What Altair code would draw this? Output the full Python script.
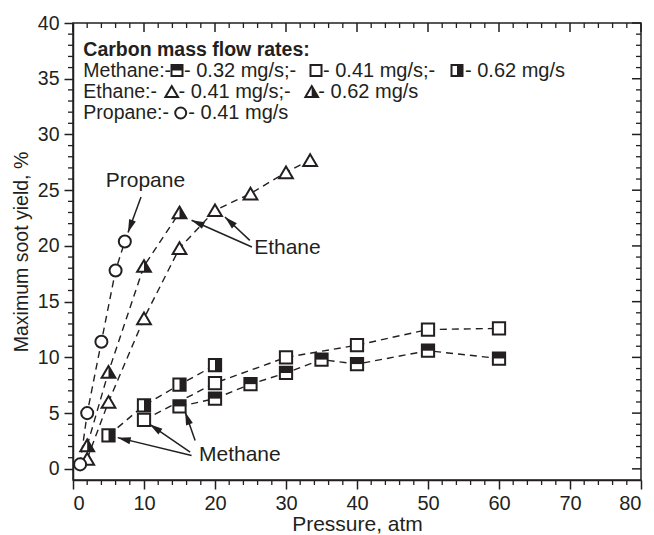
import math
import altair as alt
import pandas as pd

# ---------------- data ----------------
M032_X = [15, 20, 25, 30, 35, 40, 50, 60]
M032_Y = [5.6, 6.3, 7.6, 8.6, 9.8, 9.4, 10.6, 9.9]
M041_X = [10, 20, 30, 40, 50, 60]
M041_Y = [4.4, 7.7, 10.0, 11.1, 12.5, 12.6]
M062_X = [5, 10, 15, 20]
M062_Y = [3.0, 5.7, 7.55, 9.3]
E041_X = [2, 5, 10, 15, 20, 25, 30, 33.4]
E041_Y = [0.9, 6.0, 13.5, 19.8, 23.2, 24.7, 26.6, 27.7]
E062_X = [2, 5, 10, 15]
E062_Y = [2.1, 8.7, 18.2, 23.0]
P041_X = [1, 2, 4, 6, 7.3]
P041_Y = [0.4, 5.0, 11.4, 17.8, 20.4]

X_MAJOR = [0, 10, 20, 30, 40, 50, 60, 70, 80]
X_MINOR = [v for v in range(0, 81, 2) if v % 10]
Y_MAJOR = [0, 5, 10, 15, 20, 25, 30, 35, 40]
Y_MINOR = [v for v in range(0, 41) if v % 5]

# annotation labels (data coordinates)
ANN_TEXT = ["Propane", "Ethane", "Methane"]
ANN_X = [10.2, 30.2, 23.5]
ANN_Y = [25.8, 19.85, 1.23]
# arrows: start -> tip (data coordinates)
ARR_X1 = [9.58, 25.2, 24.9, 16.7, 16.5, 17.2]
ARR_Y1 = [24.4, 19.9, 20.5, 1.2, 1.5, 2.54]
ARR_X2 = [7.75, 16.7, 21.4, 6.3, 10.8, 15.8]
ARR_Y2 = [21.2, 22.3, 22.6, 2.8, 4.0, 5.1]

# ---------------- styling ----------------
FONT = "Liberation Sans"
INK = "#231f20"
W, H = 568, 457
XD, YD = [0, 80], [-1, 40]

SQ = "M-1,-1L1,-1L1,1L-1,1Z"
SQ_TOP = "M-1,-1L1,-1L1,0L-1,0Z"
SQ_RIGHT = "M0,-1L1,-1L1,1L0,1Z"
TRI = "M0,-0.85L1,0.85L-1,0.85Z"
TRI_RIGHT = "M0,-0.85L1,0.85L0,0.85Z"
ARROWHEAD = "M0,0L0.55,2L-0.55,2Z"

xscale = alt.Scale(domain=XD, nice=False, zero=False)
yscale = alt.Scale(domain=YD, nice=False, zero=False)
xaxis = alt.Axis(title="Pressure, atm", values=X_MAJOR, format="d", tickSize=9,
                 labelPadding=4, titlePadding=0, grid=False, labelFontSize=20,
                 titleFontSize=21)
yaxis = alt.Axis(title="Maximum soot yield, %", values=Y_MAJOR, format="d", tickSize=9,
                 labelPadding=5, titlePadding=6, grid=False, labelFontSize=19.5,
                 titleFontSize=19.5)


def X(f):
    return alt.X(f"{f}:Q", scale=xscale, axis=xaxis)


def Y(f):
    return alt.Y(f"{f}:Q", scale=yscale, axis=yaxis)


series = [
    ("m032", M032_X, M032_Y, SQ, SQ_TOP, 150),
    ("m041", M041_X, M041_Y, SQ, None, 150),
    ("m062", M062_X, M062_Y, SQ, SQ_RIGHT, 150),
    ("e041", E041_X, E041_Y, TRI, None, 190),
    ("e062", E062_X, E062_Y, TRI, TRI_RIGHT, 190),
    ("p041", P041_X, P041_Y, "circle", None, 145),
]

frames = []
for name, xs, ys, *_ in series:
    frames.append(pd.DataFrame({"series": name, "x": xs, "y": ys}))
df_all = pd.concat(frames, ignore_index=True)

layers = []
layers.append(
    alt.Chart(df_all).mark_line(strokeDash=[7, 5], strokeWidth=1.4, color=INK)
    .encode(x=X("x"), y=Y("y"), detail="series:N")
)
for name, xs, ys, shape, half, size in series:
    d = pd.DataFrame({"x": xs, "y": ys})
    layers.append(
        alt.Chart(d).mark_point(shape=shape, size=size, filled=True, fill="white",
                                stroke=INK, strokeWidth=2, opacity=1)
        .encode(x=X("x"), y=Y("y"))
    )
    if half:
        layers.append(
            alt.Chart(d).mark_point(shape=half, size=size, filled=True, fill=INK,
                                    strokeWidth=0, opacity=1)
            .encode(x=X("x"), y=Y("y"))
        )

# minor / mirrored ticks
bx = pd.DataFrame({"v": X_MINOR})
majx = pd.DataFrame({"v": X_MAJOR})
ly = pd.DataFrame({"v": Y_MINOR})
majy = pd.DataFrame({"v": Y_MAJOR})
layers.append(alt.Chart(bx).mark_rule(color=INK, strokeWidth=1.3)
              .encode(x=X("v"), y=alt.value(H), y2=alt.value(H + 5)))
layers.append(alt.Chart(bx).mark_rule(color=INK, strokeWidth=1.3)
              .encode(x=X("v"), y=alt.value(0), y2=alt.value(5)))
layers.append(alt.Chart(majx).mark_rule(color=INK, strokeWidth=1.5)
              .encode(x=X("v"), y=alt.value(0), y2=alt.value(9)))
layers.append(alt.Chart(ly).mark_rule(color=INK, strokeWidth=1.3)
              .encode(y=Y("v"), x=alt.value(0), x2=alt.value(-5)))
layers.append(alt.Chart(ly).mark_rule(color=INK, strokeWidth=1.3)
              .encode(y=Y("v"), x=alt.value(W), x2=alt.value(W - 5)))
layers.append(alt.Chart(majy).mark_rule(color=INK, strokeWidth=1.5)
              .encode(y=Y("v"), x=alt.value(W), x2=alt.value(W - 9)))

# arrows
sx = W / (XD[1] - XD[0])
sy = H / (YD[1] - YD[0])
angles = []
for x1, y1, x2, y2 in zip(ARR_X1, ARR_Y1, ARR_X2, ARR_Y2):
    dx = (x2 - x1) * sx
    dy = -(y2 - y1) * sy
    angles.append(math.degrees(math.atan2(dx, -dy)) % 360)
arr = pd.DataFrame({"x1": ARR_X1, "y1": ARR_Y1, "x2": ARR_X2, "y2": ARR_Y2, "a": angles})
layers.append(alt.Chart(arr).mark_rule(color=INK, strokeWidth=1.5)
              .encode(x=X("x1"), y=Y("y1"), x2="x2:Q", y2="y2:Q"))
layers.append(alt.Chart(arr).mark_point(shape=ARROWHEAD, size=169, filled=True, fill=INK,
                                        strokeWidth=0, opacity=1)
              .encode(x=X("x2"), y=Y("y2"), angle=alt.Angle("a:Q", scale=None)))

ann = pd.DataFrame({"t": ANN_TEXT, "x": ANN_X, "y": ANN_Y})
layers.append(alt.Chart(ann).mark_text(font=FONT, fontSize=21, color=INK, align="center",
                                       baseline="middle")
              .encode(x=X("x"), y=Y("y"), text="t:N"))

# legend block (plot-relative pixels)
one = pd.DataFrame({"k": [0]})
LEG_TEXT = [
    ("Carbon mass flow rates:", 10.3, 27, "bold", 19.5),
    ("Methane:-", 10.3, 47.5, "normal", 19.5),
    ("- 0.32 mg/s;-", 111, 47.5, "normal", 20),
    ("- 0.41 mg/s;-", 250, 47.5, "normal", 20),
    ("- 0.62 mg/s", 392, 47.5, "normal", 20),
    ("Ethane:-", 10.3, 68.5, "normal", 19.5),
    ("- 0.41 mg/s;-", 105.5, 68.5, "normal", 20),
    ("- 0.62 mg/s", 245.3, 68.5, "normal", 20),
    ("Propane:-", 10.3, 90, "normal", 19.5),
    ("- 0.41 mg/s", 115.3, 90, "normal", 20),
]
for t, px, py, fw, fs in LEG_TEXT:
    layers.append(alt.Chart(one).mark_text(font=FONT, fontSize=fs, fontWeight=fw, color=INK,
                                           align="left", baseline="middle", text=t)
                  .encode(x=alt.value(px), y=alt.value(py)))
LEG_SYM = [
    (SQ, SQ_TOP, 104, 47.5, 121),
    (SQ, None, 243, 47.5, 121),
    (SQ, SQ_RIGHT, 384, 47.5, 121),
    (TRI, None, 98.7, 68.5, 160),
    (TRI, TRI_RIGHT, 238.7, 68.5, 160),
    ("circle", None, 107.7, 90, 121),
]
for shape, half, px, py, size in LEG_SYM:
    layers.append(alt.Chart(one).mark_point(shape=shape, size=size, filled=True, fill="white",
                                            stroke=INK, strokeWidth=2, opacity=1)
                  .encode(x=alt.value(px), y=alt.value(py)))
    if half:
        layers.append(alt.Chart(one).mark_point(shape=half, size=size, filled=True, fill=INK,
                                                strokeWidth=0, opacity=1)
                      .encode(x=alt.value(px), y=alt.value(py)))

chart = (
    alt.layer(*layers)
    .properties(width=W, height=H,
                autosize=alt.AutoSizeParams(type="none"),
                padding={"left": 73, "top": 23, "right": 13, "bottom": 55},
                background="white")
    .configure_view(stroke=INK, strokeWidth=1.5)
    .configure_axis(domainColor=INK, domainWidth=1.5, tickColor=INK, tickWidth=1.5,
                    labelColor=INK, titleColor=INK, labelFont=FONT, titleFont=FONT,
                    titleFontWeight="normal")
)
chart.save("out.html", embed_options={"renderer": "svg", "actions": False})
